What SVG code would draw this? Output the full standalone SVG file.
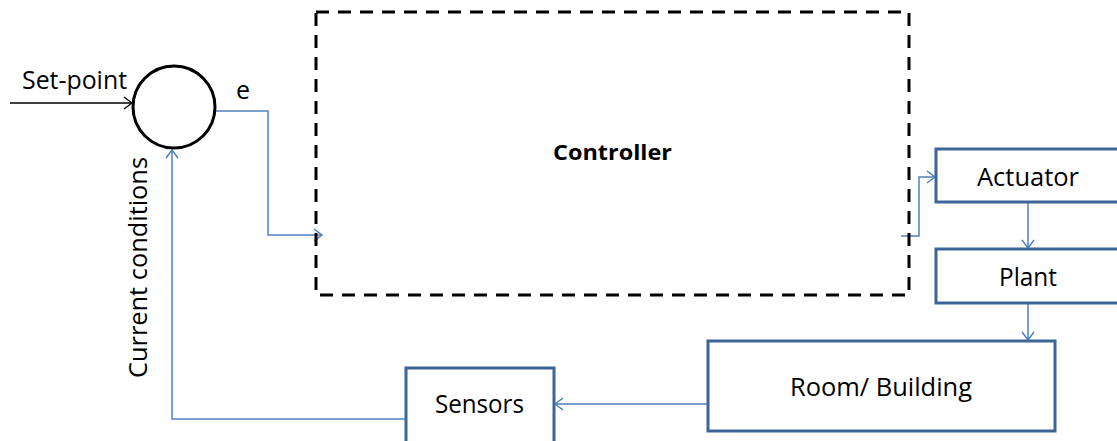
<svg xmlns="http://www.w3.org/2000/svg" width="1117" height="441" viewBox="0 0 1117 441">
  <style>
    .lbl { font-family: "Open Sans", "Liberation Sans", sans-serif; font-size: 25px; fill: #000; }
    .bold { font-weight: bold; font-size: 22px; }
    .box { fill: #fff; stroke: #3e6598; stroke-width: 3; }
    .wire { fill: none; stroke: #4f81bd; stroke-width: 1.5; }
  </style>
  <defs>
    <marker id="arrowBlue" markerUnits="userSpaceOnUse" markerWidth="12" markerHeight="14" refX="9" refY="7" orient="auto">
      <path d="M1,1 L9,7 L1,13" fill="none" stroke="#4f81bd" stroke-width="1.5"/>
    </marker>
    <marker id="arrowBlack" markerUnits="userSpaceOnUse" markerWidth="12" markerHeight="14" refX="9" refY="7" orient="auto">
      <path d="M1,1 L9,7 L1,13" fill="none" stroke="#000" stroke-width="1.3"/>
    </marker>
  </defs>

  <rect width="1117" height="441" fill="#fff"/>

  <!-- connectors -->
  <g id="connectors">
    <line x1="10" y1="103" x2="132" y2="103" stroke="#000" stroke-width="1.3" marker-end="url(#arrowBlack)"/>
    <polyline class="wire" points="215,111 268,111 268,235 322,235" marker-end="url(#arrowBlue)"/>
    <polyline class="wire" points="901,236 919,236 919,177 935,177" marker-end="url(#arrowBlue)"/>
    <line class="wire" x1="1028" y1="203" x2="1028" y2="248" marker-end="url(#arrowBlue)"/>
    <line class="wire" x1="1028" y1="304" x2="1028" y2="340" marker-end="url(#arrowBlue)"/>
    <line class="wire" x1="707" y1="404" x2="555" y2="404" marker-end="url(#arrowBlue)"/>
    <polyline class="wire" points="405,419 172,419 172,150" marker-end="url(#arrowBlue)"/>
  </g>

  <!-- summing junction -->
  <g id="sum">
    <circle cx="174" cy="107" r="41" fill="#fff" stroke="#000" stroke-width="3"/>
  </g>

  <g id="setpoint-label">
    <text class="lbl" x="22" y="89" textLength="105" lengthAdjust="spacingAndGlyphs">Set-point</text>
  </g>
  <g id="error-label">
    <text class="lbl" x="236" y="99">e</text>
  </g>
  <g id="feedback-label">
    <text class="lbl" transform="translate(147,378) rotate(-90)" x="0" y="0" textLength="221" lengthAdjust="spacingAndGlyphs">Current conditions</text>
  </g>

  <!-- controller -->
  <g id="controller">
    <rect x="316" y="12" width="593" height="283" fill="none" stroke="#000" stroke-width="3" stroke-dasharray="13,9"/>
    <text class="lbl bold" x="553" y="160" textLength="119" lengthAdjust="spacingAndGlyphs">Controller</text>
  </g>

  <g id="actuator">
    <rect class="box" x="936" y="149" width="190" height="53"/>
    <text class="lbl" x="977" y="186" textLength="102" lengthAdjust="spacingAndGlyphs">Actuator</text>
  </g>

  <g id="plant">
    <rect class="box" x="936" y="249" width="190" height="54"/>
    <text class="lbl" x="999" y="286" textLength="58" lengthAdjust="spacingAndGlyphs">Plant</text>
  </g>

  <g id="room">
    <rect class="box" x="708" y="341" width="347" height="90"/>
    <text class="lbl" x="790" y="396" textLength="182" lengthAdjust="spacingAndGlyphs">Room/ Building</text>
  </g>

  <g id="sensors">
    <rect class="box" x="406" y="368" width="148" height="80"/>
    <text class="lbl" x="435" y="413" textLength="89" lengthAdjust="spacingAndGlyphs">Sensors</text>
  </g>
</svg>
